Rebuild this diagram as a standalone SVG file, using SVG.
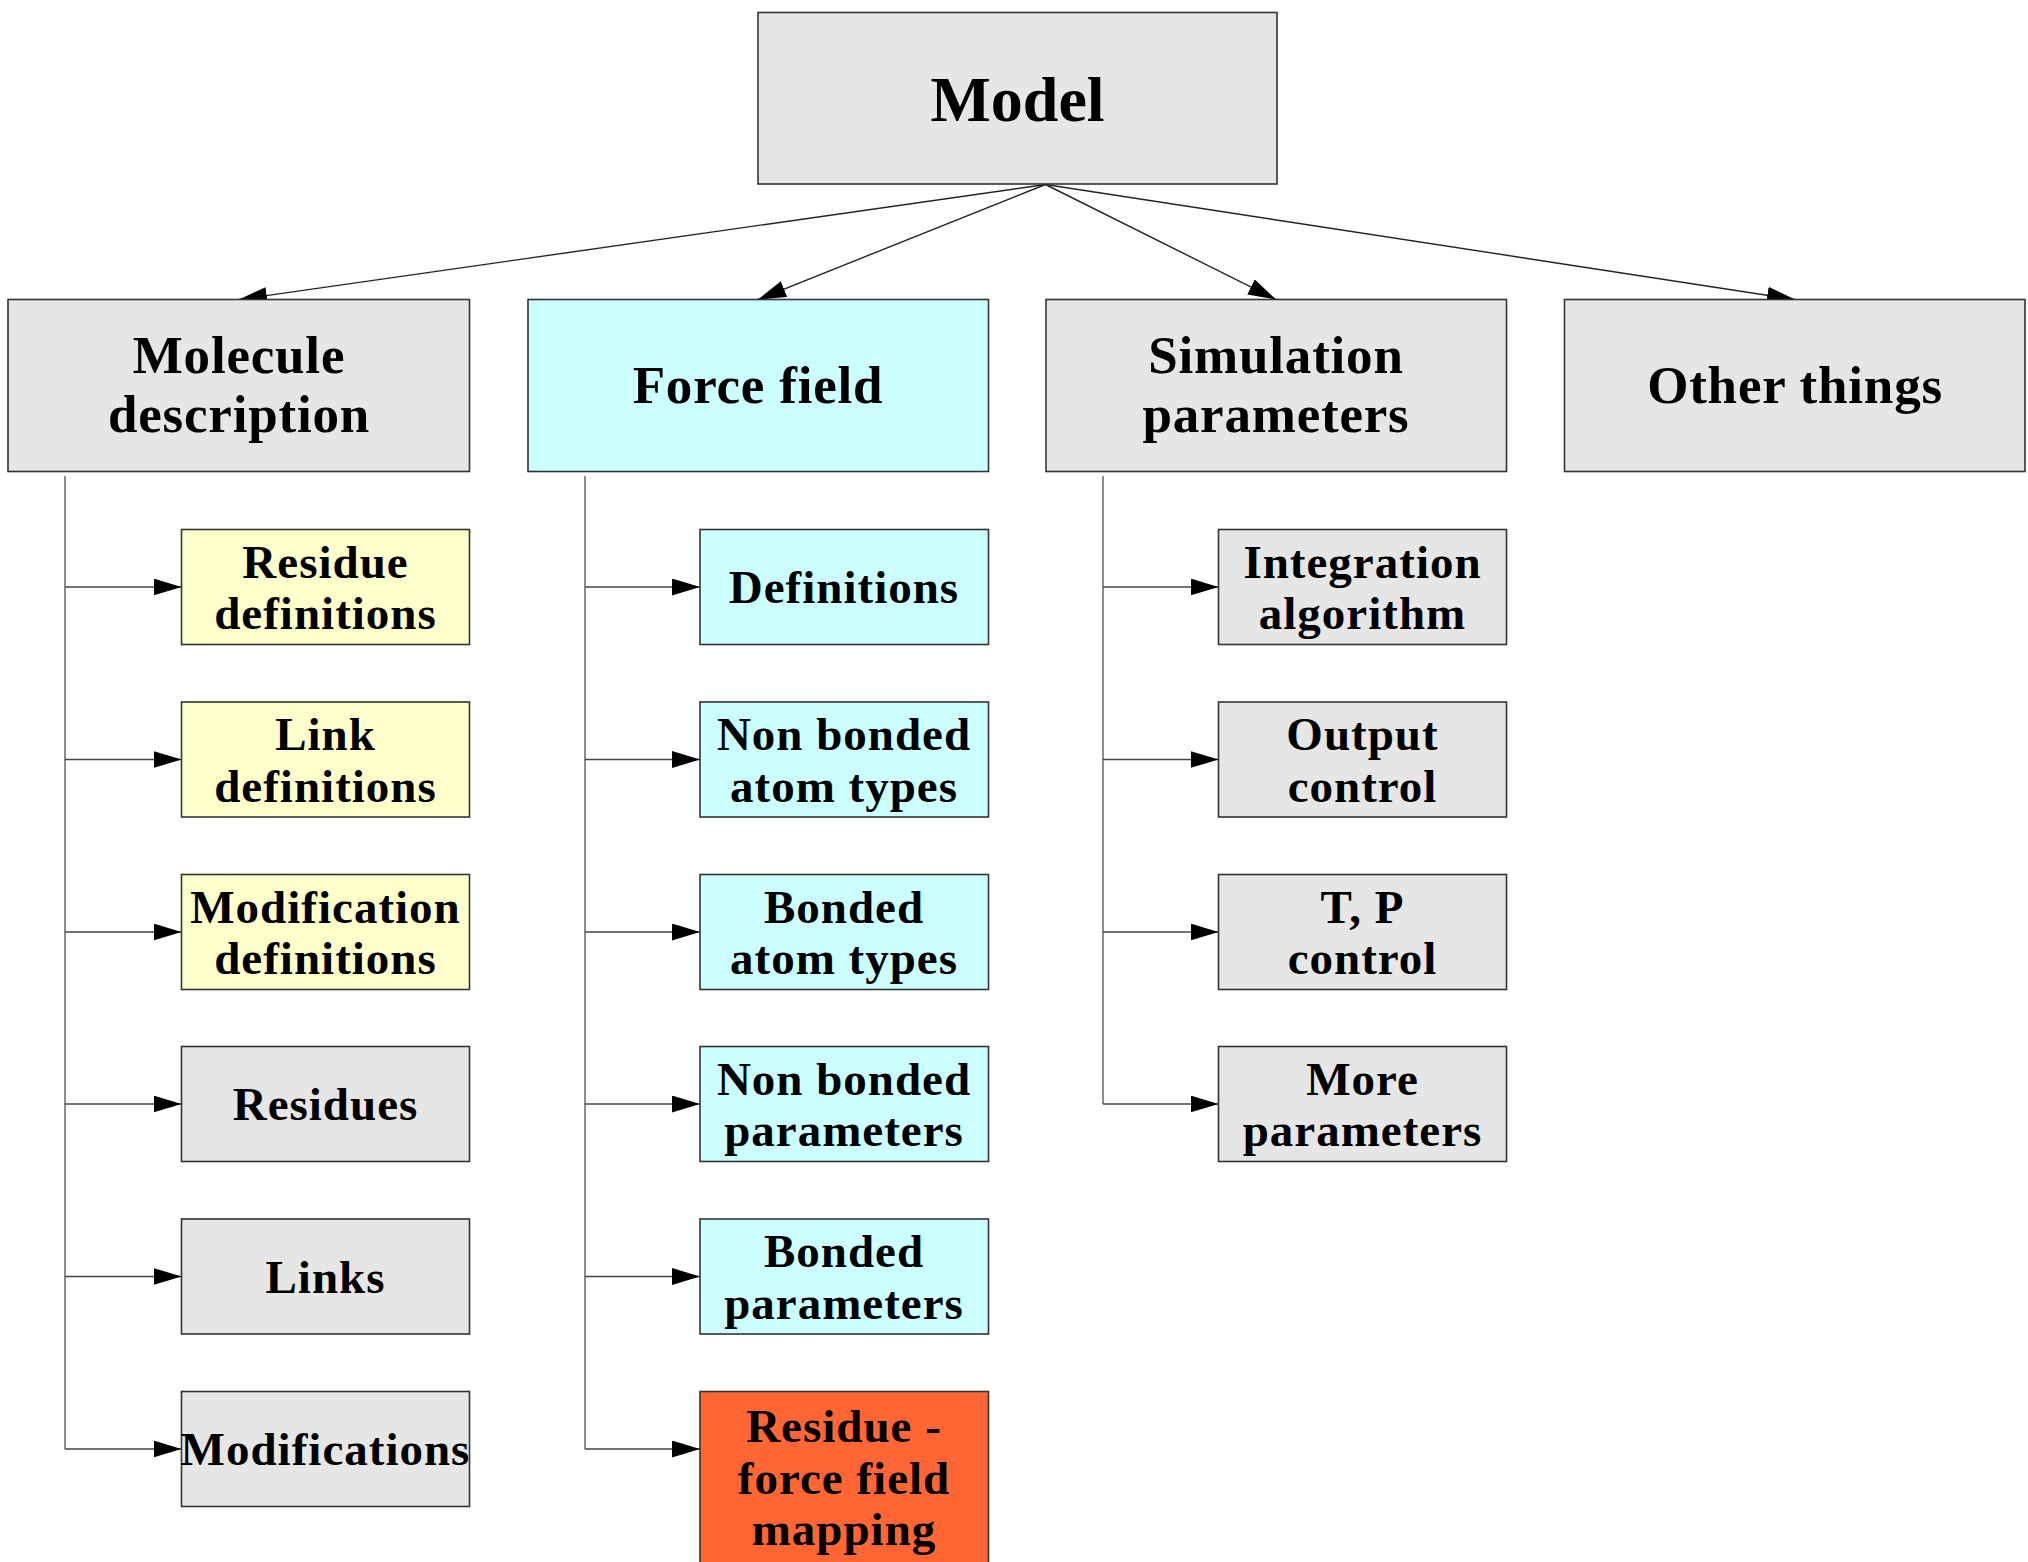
<svg xmlns="http://www.w3.org/2000/svg" width="2028" height="1562" viewBox="0 0 2028 1562">
<style>
.box{stroke:#333;stroke-width:1.6}
.g{fill:#e6e6e6}.c{fill:#ccffff}.y{fill:#ffffcc}.o{fill:#ff6633}
text{font-family:"Liberation Serif","Times New Roman",serif;font-weight:bold;fill:#000;text-anchor:middle}
.t0{font-size:64px}
.t1{font-size:53px;letter-spacing:0.8px}
.t2{font-size:47px;letter-spacing:1px}
.ln{stroke:#222;stroke-width:1.4;fill:none}
.vl{stroke:#808080;stroke-width:1.8;fill:none}
.hl{stroke:#444;stroke-width:1.6;fill:none}
</style>
<defs>
<marker id="ah" markerUnits="userSpaceOnUse" markerWidth="28" markerHeight="17" refX="28" refY="8.5" orient="auto" viewBox="0 0 28 17">
<path d="M0,0 L28,8.5 L0,17 z" fill="#000"/>
</marker>
</defs>
<rect width="2028" height="1562" fill="#fff"/>

<g id="connectors">
<line class="ln" x1="1045.5" y1="184.5" x2="239" y2="299.5" marker-end="url(#ah)"/>
<line class="ln" x1="1045.5" y1="184.5" x2="758" y2="299.5" marker-end="url(#ah)"/>
<line class="ln" x1="1045.5" y1="184.5" x2="1276" y2="299.5" marker-end="url(#ah)"/>
<line class="ln" x1="1045.5" y1="184.5" x2="1795" y2="299.5" marker-end="url(#ah)"/>

<path class="vl" d="M65,476 V1449"/>
<line class="hl" x1="65" y1="587" x2="181.5" y2="587" marker-end="url(#ah)"/>
<line class="hl" x1="65" y1="759.5" x2="181.5" y2="759.5" marker-end="url(#ah)"/>
<line class="hl" x1="65" y1="932" x2="181.5" y2="932" marker-end="url(#ah)"/>
<line class="hl" x1="65" y1="1104" x2="181.5" y2="1104" marker-end="url(#ah)"/>
<line class="hl" x1="65" y1="1276.5" x2="181.5" y2="1276.5" marker-end="url(#ah)"/>
<line class="hl" x1="65" y1="1449" x2="181.5" y2="1449" marker-end="url(#ah)"/>

<path class="vl" d="M585,476 V1449"/>
<line class="hl" x1="585" y1="587" x2="700" y2="587" marker-end="url(#ah)"/>
<line class="hl" x1="585" y1="759.5" x2="700" y2="759.5" marker-end="url(#ah)"/>
<line class="hl" x1="585" y1="932" x2="700" y2="932" marker-end="url(#ah)"/>
<line class="hl" x1="585" y1="1104" x2="700" y2="1104" marker-end="url(#ah)"/>
<line class="hl" x1="585" y1="1276.5" x2="700" y2="1276.5" marker-end="url(#ah)"/>
<line class="hl" x1="585" y1="1449" x2="700" y2="1449" marker-end="url(#ah)"/>

<path class="vl" d="M1103,476 V1104"/>
<line class="hl" x1="1103" y1="587" x2="1218.5" y2="587" marker-end="url(#ah)"/>
<line class="hl" x1="1103" y1="759.5" x2="1218.5" y2="759.5" marker-end="url(#ah)"/>
<line class="hl" x1="1103" y1="932" x2="1218.5" y2="932" marker-end="url(#ah)"/>
<line class="hl" x1="1103" y1="1104" x2="1218.5" y2="1104" marker-end="url(#ah)"/>
</g>

<g id="model"><rect class="box g" x="758" y="12.5" width="519" height="171.5"/><text class="t0" x="1017.5" y="121">Model</text></g>

<g id="molecule"><rect class="box g" x="8" y="299.5" width="461.5" height="172"/><text class="t1" x="239" y="373">Molecule</text><text class="t1" x="239" y="432">description</text></g>
<g id="forcefield"><rect class="box c" x="528" y="299.5" width="460.5" height="172"/><text class="t1" x="758" y="403">Force field</text></g>
<g id="simulation"><rect class="box g" x="1046" y="299.5" width="460.5" height="172"/><text class="t1" x="1276" y="373">Simulation</text><text class="t1" x="1276" y="432">parameters</text></g>
<g id="other"><rect class="box g" x="1564.5" y="299.5" width="460.5" height="172"/><text class="t1" x="1795" y="403">Other things</text></g>

<g id="residue-defs"><rect class="box y" x="181.5" y="529.5" width="288" height="115"/><text class="t2" x="325.5" y="577.5">Residue</text><text class="t2" x="325.5" y="629">definitions</text></g>
<g id="link-defs"><rect class="box y" x="181.5" y="702" width="288" height="115"/><text class="t2" x="325.5" y="750">Link</text><text class="t2" x="325.5" y="801.5">definitions</text></g>
<g id="mod-defs"><rect class="box y" x="181.5" y="874.5" width="288" height="115"/><text class="t2" x="325.5" y="922.5">Modification</text><text class="t2" x="325.5" y="974">definitions</text></g>
<g id="residues"><rect class="box g" x="181.5" y="1046.5" width="288" height="115"/><text class="t2" x="325.5" y="1120">Residues</text></g>
<g id="links"><rect class="box g" x="181.5" y="1219" width="288" height="115"/><text class="t2" x="325.5" y="1292.5">Links</text></g>
<g id="modifications"><rect class="box g" x="181.5" y="1391.5" width="288" height="115"/><text class="t2" x="325.5" y="1465">Modifications</text></g>

<g id="ff-defs"><rect class="box c" x="700" y="529.5" width="288.5" height="115"/><text class="t2" x="844" y="603">Definitions</text></g>
<g id="nb-atom"><rect class="box c" x="700" y="702" width="288.5" height="115"/><text class="t2" x="844" y="750">Non bonded</text><text class="t2" x="844" y="801.5">atom types</text></g>
<g id="b-atom"><rect class="box c" x="700" y="874.5" width="288.5" height="115"/><text class="t2" x="844" y="922.5">Bonded</text><text class="t2" x="844" y="974">atom types</text></g>
<g id="nb-param"><rect class="box c" x="700" y="1046.5" width="288.5" height="115"/><text class="t2" x="844" y="1094.5">Non bonded</text><text class="t2" x="844" y="1146">parameters</text></g>
<g id="b-param"><rect class="box c" x="700" y="1219" width="288.5" height="115"/><text class="t2" x="844" y="1267">Bonded</text><text class="t2" x="844" y="1318.5">parameters</text></g>
<g id="mapping"><rect class="box o" x="700" y="1391.5" width="288.5" height="185"/><text class="t2" x="844" y="1441.5">Residue -</text><text class="t2" x="844" y="1494">force field</text><text class="t2" x="844" y="1545">mapping</text></g>

<g id="integration"><rect class="box g" x="1218.5" y="529.5" width="288" height="115"/><text class="t2" x="1362.5" y="577.5">Integration</text><text class="t2" x="1362.5" y="629">algorithm</text></g>
<g id="output"><rect class="box g" x="1218.5" y="702" width="288" height="115"/><text class="t2" x="1362.5" y="750">Output</text><text class="t2" x="1362.5" y="801.5">control</text></g>
<g id="tp"><rect class="box g" x="1218.5" y="874.5" width="288" height="115"/><text class="t2" x="1362.5" y="922.5">T, P</text><text class="t2" x="1362.5" y="974">control</text></g>
<g id="more"><rect class="box g" x="1218.5" y="1046.5" width="288" height="115"/><text class="t2" x="1362.5" y="1094.5">More</text><text class="t2" x="1362.5" y="1146">parameters</text></g>
</svg>
